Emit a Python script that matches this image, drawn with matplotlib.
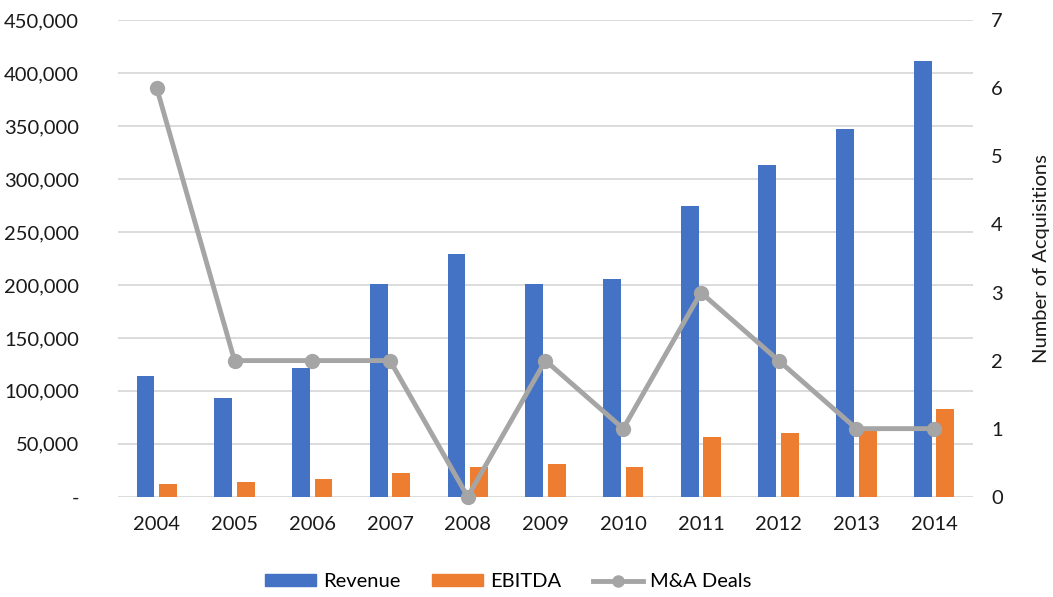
import matplotlib
matplotlib.use("Agg")
import matplotlib.pyplot as plt
import numpy as np
from matplotlib.patches import Patch
from matplotlib.lines import Line2D
from matplotlib.ticker import FuncFormatter

BLUE, ORANGE, GREY, GRID, INK = "#4472C4", "#ED7D31", "#A5A5A5", "#D9D9D9", "#1a1a1a"

years = ["2004", "2005", "2006", "2007", "2008", "2009", "2010", "2011", "2012", "2013", "2014"]
revenue = [114000, 93000, 122000, 201000, 229000, 201000, 206000, 275000, 313000, 347000, 412000]
ebitda = [12000, 14000, 16500, 22500, 28000, 31000, 28000, 56500, 60000, 64000, 83000]
deals = [6, 2, 2, 2, 0, 2, 1, 3, 2, 1, 1]

plt.rcParams["font.family"] = ["Lato", "DejaVu Sans"]

fig = plt.figure(figsize=(10.53, 5.97), dpi=100)
ax = fig.add_axes([0.112, 0.168, 0.812, 0.798])
x = np.arange(len(years))
w = 0.23

ax.bar(x - 0.145, revenue, w, color=BLUE, zorder=2)
ax.bar(x + 0.145, ebitda, w, color=ORANGE, zorder=2)
ax.set_xlim(-0.5, len(years) - 0.5)
ax.set_ylim(0, 450000)
ax.set_yticks(np.arange(0, 450001, 50000))
ax.yaxis.set_major_formatter(FuncFormatter(lambda v, _: "-" if v == 0 else f"{v:,.0f}"))
ax.set_xticks(x)
ax.set_xticklabels(years)
ax.grid(axis="y", color=GRID, lw=1.3, zorder=0)
ax.set_axisbelow(True)
ax.tick_params(length=0, labelsize=14.5, colors=INK)
ax.tick_params(axis="x", pad=14)
ax.tick_params(axis="y", pad=28)
for s in ax.spines.values():
    s.set_visible(False)

# acquisitions count on the secondary axis
ax2 = ax.twinx()
ax2.plot(x, deals, color=GREY, lw=3.5, marker="o", ms=10, clip_on=False, zorder=3)
ax2.set_ylim(0, 7)
ax2.set_yticks(range(8))
ax2.tick_params(length=0, labelsize=14.5, colors=INK, pad=13)
ax2.set_ylabel("Number of Acquisitions", fontsize=14.5, labelpad=22, color=INK)
for s in ax2.spines.values():
    s.set_visible(False)

handles = [Patch(color=BLUE), Patch(color=ORANGE),
           Line2D([], [], color=GREY, lw=3.5, marker="o", ms=8)]
fig.legend(handles, ["Revenue", "EBITDA", "M&A Deals"], loc="center",
           bbox_to_anchor=(0.483, 0.026), ncol=3, frameon=False, fontsize=14.5,
           handlelength=2.5, handleheight=0.5, columnspacing=1.6, handletextpad=0.35)

fig.savefig("out.png", dpi=100)
